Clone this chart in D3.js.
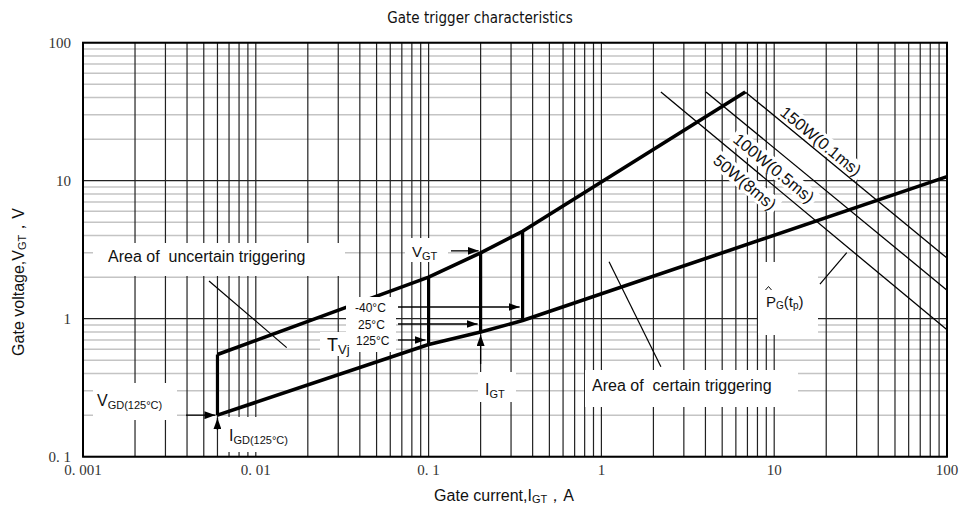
<!DOCTYPE html>
<html>
<head>
<meta charset="utf-8">
<script src="https://cdn.jsdelivr.net/npm/d3@7"></script>
<style>
  body { margin: 0; background: #fff; }
  svg text { font-family: "Liberation Sans", Arial, sans-serif; fill: #111; white-space: pre; }
  .tick-label { font-family: "Liberation Serif", "DejaVu Serif", serif; font-size: 15px; fill: #333; }
  .title { font-family: "Liberation Sans Narrow", "DejaVu Sans Condensed", "Noto Sans", sans-serif; font-size: 15px; }
</style>
</head>
<body>
<div id="chart"></div>
<script>
"use strict";

// axis ticks
var xTicks = [0.001, 0.01, 0.1, 1, 10, 100];
var xTickLabels = ["0. 001", "0. 01", "0. 1", "1", "10", "100"];
var yTicks = [0.1, 1, 10, 100];
var yTickLabels = ["0. 1", "1", "10", "100"];

// boundary curves (I in A, V in V)
var upperI = [0.006, 0.1, 0.2, 0.35, 6.8];
var upperV = [0.55, 2.0, 3.0, 4.3, 44];
var lowerI = [0.006, 0.1, 0.2, 0.35, 100];
var lowerV = [0.2, 0.65, 0.8, 0.97, 10.7];

// temperature bars (-40, 25, 125 degC) at these currents
var tempNames = ["-40°C", "25°C", "125°C"];
var tempI = [0.35, 0.2, 0.1];

// gate power limit lines
var powerLabels = ["150W(0.1ms)", "100W(0.5ms)", "50W(8ms)"];
var powerStartI = [6.8, 4.03, 2.21];
var powerStartV = [44, 44, 44];
var powerEndI = [100, 100, 100];
var powerEndV = [2.75, 1.61, 0.83];

// gate non-trigger point
var gdI = 0.006, gdV = 0.2;

var width = 960, height = 509;
var plotL = 83, plotR = 947, plotT = 42.7, plotB = 456.7;

var svg = d3.select("#chart").append("svg")
    .attr("width", width)
    .attr("height", height);

var x = d3.scaleLog().domain([0.001, 100]).range([plotL, plotR]);
var y = d3.scaleLog().domain([0.1, 100]).range([plotB, plotT]);

// interpolate V on a polyline in log space
function interpLog(Is, Vs, i) {
    for (var k = 0; k < Is.length - 1; k++) {
        if (i >= Is[k] && i <= Is[k + 1]) {
            var t = (Math.log(i) - Math.log(Is[k])) / (Math.log(Is[k + 1]) - Math.log(Is[k]));
            return Math.exp(Math.log(Vs[k]) + t * (Math.log(Vs[k + 1]) - Math.log(Vs[k])));
        }
    }
    return Vs[Vs.length - 1];
}

var defs = svg.append("defs");
defs.append("marker")
    .attr("id", "arrow")
    .attr("markerUnits", "userSpaceOnUse")
    .attr("markerWidth", 11).attr("markerHeight", 8)
    .attr("refX", 11).attr("refY", 4)
    .attr("orient", "auto")
    .append("path")
    .attr("d", "M0,0L11,4L0,8Z")
    .attr("fill", "#000");

//=========== grid
var grid = svg.append("g");
grid.selectAll(".hgrid")
    .data(y.ticks())
    .enter().append("line")
    .attr("x1", plotL).attr("x2", plotR)
    .attr("y1", function(d) { return y(d); })
    .attr("y2", function(d) { return y(d); })
    .attr("stroke", function(d) { return yTicks.indexOf(d) >= 0 ? "#222" : "#c4c4c4"; })
    .attr("stroke-width", function(d) { return yTicks.indexOf(d) >= 0 ? 1.3 : 1.5; });

grid.selectAll(".vgrid")
    .data(x.ticks())
    .enter().append("line")
    .attr("y1", plotT).attr("y2", plotB)
    .attr("x1", function(d) { return x(d); })
    .attr("x2", function(d) { return x(d); })
    .attr("stroke", "#222")
    .attr("stroke-width", 1.2);

svg.append("rect")
    .attr("x", plotL).attr("y", plotT)
    .attr("width", plotR - plotL).attr("height", plotB - plotT)
    .attr("fill", "none")
    .attr("stroke", "#000")
    .attr("stroke-width", 2);

//=========== tick labels
svg.selectAll(".xt")
    .data(xTicks)
    .enter().append("text")
    .attr("class", "tick-label")
    .attr("x", function(d) { return x(d); })
    .attr("y", plotB + 18)
    .attr("text-anchor", "middle")
    .text(function(d, i) { return xTickLabels[i]; });

svg.selectAll(".yt")
    .data(yTicks)
    .enter().append("text")
    .attr("class", "tick-label")
    .attr("x", plotL - 12)
    .attr("y", function(d) { return y(d) + 5; })
    .attr("text-anchor", "end")
    .text(function(d, i) { return yTickLabels[i]; });

//=========== power lines
svg.selectAll(".power")
    .data(powerLabels)
    .enter().append("line")
    .attr("x1", function(d, i) { return x(powerStartI[i]); })
    .attr("y1", function(d, i) { return y(powerStartV[i]); })
    .attr("x2", function(d, i) { return x(powerEndI[i]); })
    .attr("y2", function(d, i) { return y(powerEndV[i]); })
    .attr("stroke", "#000")
    .attr("stroke-width", 1.3);

//=========== boundary curves
var line = d3.line()
    .x(function(d) { return x(d[0]); })
    .y(function(d) { return y(d[1]); });

svg.append("path")
    .attr("d", line(upperI.map(function(d, i) { return [d, upperV[i]]; })))
    .attr("fill", "none").attr("stroke", "#000").attr("stroke-width", 3.6)
    .attr("stroke-linejoin", "round");

svg.append("path")
    .attr("d", line(lowerI.map(function(d, i) { return [d, lowerV[i]]; })))
    .attr("fill", "none").attr("stroke", "#000").attr("stroke-width", 3.6)
    .attr("stroke-linejoin", "round");

// vertical bars
svg.selectAll(".bar")
    .data(tempI.concat([gdI]))
    .enter().append("line")
    .attr("x1", function(d) { return x(d); })
    .attr("x2", function(d) { return x(d); })
    .attr("y1", function(d) { return y(interpLog(upperI, upperV, d)); })
    .attr("y2", function(d) { return y(interpLog(lowerI, lowerV, d)); })
    .attr("stroke", "#000").attr("stroke-width", 3.2);

//=========== white label boxes
var boxes = [
    [93, 243, 252, 33],   // uncertain
    [585, 370, 213, 37],  // certain
    [93, 383, 84, 37],    // V_GD
    [225, 417, 62, 35],   // I_GD
    [405, 238, 43, 24],   // V_GT
    [346, 297, 50, 55],   // temps
    [320, 332, 26, 24],   // T_vj
    [478, 372, 38, 30],   // I_GT
    [758, 262, 60, 73]    // P_G
];
svg.selectAll(".box")
    .data(boxes)
    .enter().append("rect")
    .attr("x", function(d) { return d[0]; })
    .attr("y", function(d) { return d[1]; })
    .attr("width", function(d) { return d[2]; })
    .attr("height", function(d) { return d[3]; })
    .attr("fill", "#fff");

//=========== power labels (rotated along the lines)
var powerPos = [[821, 141], [774, 168], [745, 182]];
powerLabels.forEach(function(lbl, i) {
    var ang = Math.atan2(y(powerEndV[i]) - y(powerStartV[i]), x(powerEndI[i]) - x(powerStartI[i])) * 180 / Math.PI;
    var g = svg.append("g")
        .attr("transform", "translate(" + powerPos[i][0] + "," + powerPos[i][1] + ") rotate(" + ang + ")");
    var t = g.append("text")
        .attr("text-anchor", "middle")
        .attr("y", 6)
        .style("font-size", "16.5px")
        .text(lbl);
    var w = t.node().getComputedTextLength();
    g.insert("rect", "text")
        .attr("x", -w / 2 - 3).attr("y", -9)
        .attr("width", w + 6).attr("height", 18)
        .attr("fill", "#fff");
});

//=========== pointer lines
var pointers = [
    [[0.00536, 1.876], [0.0151, 0.617]],
    [[1.107, 2.59], [2.21, 0.449]],
    [[18.4, 1.78], [26.3, 3.01]]
];
svg.selectAll(".pointer")
    .data(pointers)
    .enter().append("line")
    .attr("x1", function(d) { return x(d[0][0]); })
    .attr("y1", function(d) { return y(d[0][1]); })
    .attr("x2", function(d) { return x(d[1][0]); })
    .attr("y2", function(d) { return y(d[1][1]); })
    .attr("stroke", "#000").attr("stroke-width", 1.2);

//=========== arrows
var arrows = [
    [186, y(gdV), x(gdI) - 2, y(gdV)],
    [x(gdI), 430, x(gdI), y(gdV) + 3],
    [451, y(3.0) - 2, x(0.2) - 2, y(3.0) - 2],
    [398, 307, x(tempI[0]) - 3, 307],
    [398, 324, x(tempI[1]) - 3, 324],
    [398, 340, x(tempI[2]) - 3, 340],
    [x(0.2), 364, x(0.2), y(0.8) + 3]
];
svg.selectAll(".arrow")
    .data(arrows)
    .enter().append("line")
    .attr("x1", function(d) { return d[0]; })
    .attr("y1", function(d) { return d[1]; })
    .attr("x2", function(d) { return d[2]; })
    .attr("y2", function(d) { return d[3]; })
    .attr("stroke", "#000").attr("stroke-width", 1.3)
    .attr("marker-end", "url(#arrow)");

//=========== text labels
function subLabel(px, py, main, sub, size, subSize) {
    var t = svg.append("text").attr("x", px).attr("y", py).style("font-size", size + "px");
    t.append("tspan").text(main);
    t.append("tspan").attr("dy", 3).style("font-size", subSize + "px").text(sub);
    return t;
}

svg.append("text").attr("x", 108).attr("y", 262).style("font-size", "16px")
    .text("Area of  uncertain triggering");
svg.append("text").attr("x", 592).attr("y", 391).style("font-size", "16px")
    .text("Area of  certain triggering");

subLabel(97, 406, "V", "GD(125°C)", 16, 11);
subLabel(229, 441, "I", "GD(125°C)", 16, 11);
subLabel(412, 257, "V", "GT", 15, 11);
subLabel(485, 395, "I", "GT", 16, 11);
subLabel(327, 351, "T", "Vj", 18, 13);

svg.selectAll(".temp")
    .data(tempNames)
    .enter().append("text")
    .attr("x", function(d, i) { return [355, 358, 356][i]; })
    .attr("y", function(d, i) { return [312, 329, 345][i]; })
    .style("font-size", "12px")
    .text(function(d) { return d; });

// P_G(t_p) with hat
var pg = svg.append("text").attr("x", 766).attr("y", 307).style("font-size", "15px");
pg.append("tspan").text("P");
pg.append("tspan").attr("dy", 2).style("font-size", "10px").text("G");
pg.append("tspan").attr("dy", -2).text("(t");
pg.append("tspan").attr("dy", 2).style("font-size", "10px").text("p");
pg.append("tspan").attr("dy", -2).text(")");
svg.append("path")
    .attr("d", "M765.5,290L768.5,286.5L771.5,290")
    .attr("fill", "none").attr("stroke", "#111").attr("stroke-width", 1);

//=========== titles
svg.append("text")
    .attr("class", "title")
    .attr("x", 480).attr("y", 23)
    .attr("text-anchor", "middle")
    .text("Gate trigger characteristics");

var xl = svg.append("text")
    .attr("x", 504).attr("y", 501)
    .attr("text-anchor", "middle")
    .style("font-size", "16px");
xl.append("tspan").text("Gate current,I");
xl.append("tspan").attr("dy", 2).style("font-size", "11px").text("GT");
xl.append("tspan").attr("dy", -2).text("，A");

var yl = svg.append("text")
    .attr("transform", "translate(24,282) rotate(-90)")
    .attr("text-anchor", "middle")
    .style("font-size", "16px");
yl.append("tspan").text("Gate voltage,V");
yl.append("tspan").attr("dy", 2).style("font-size", "11px").text("GT");
yl.append("tspan").attr("dy", -2).text("，V");
</script>
</body>
</html>
